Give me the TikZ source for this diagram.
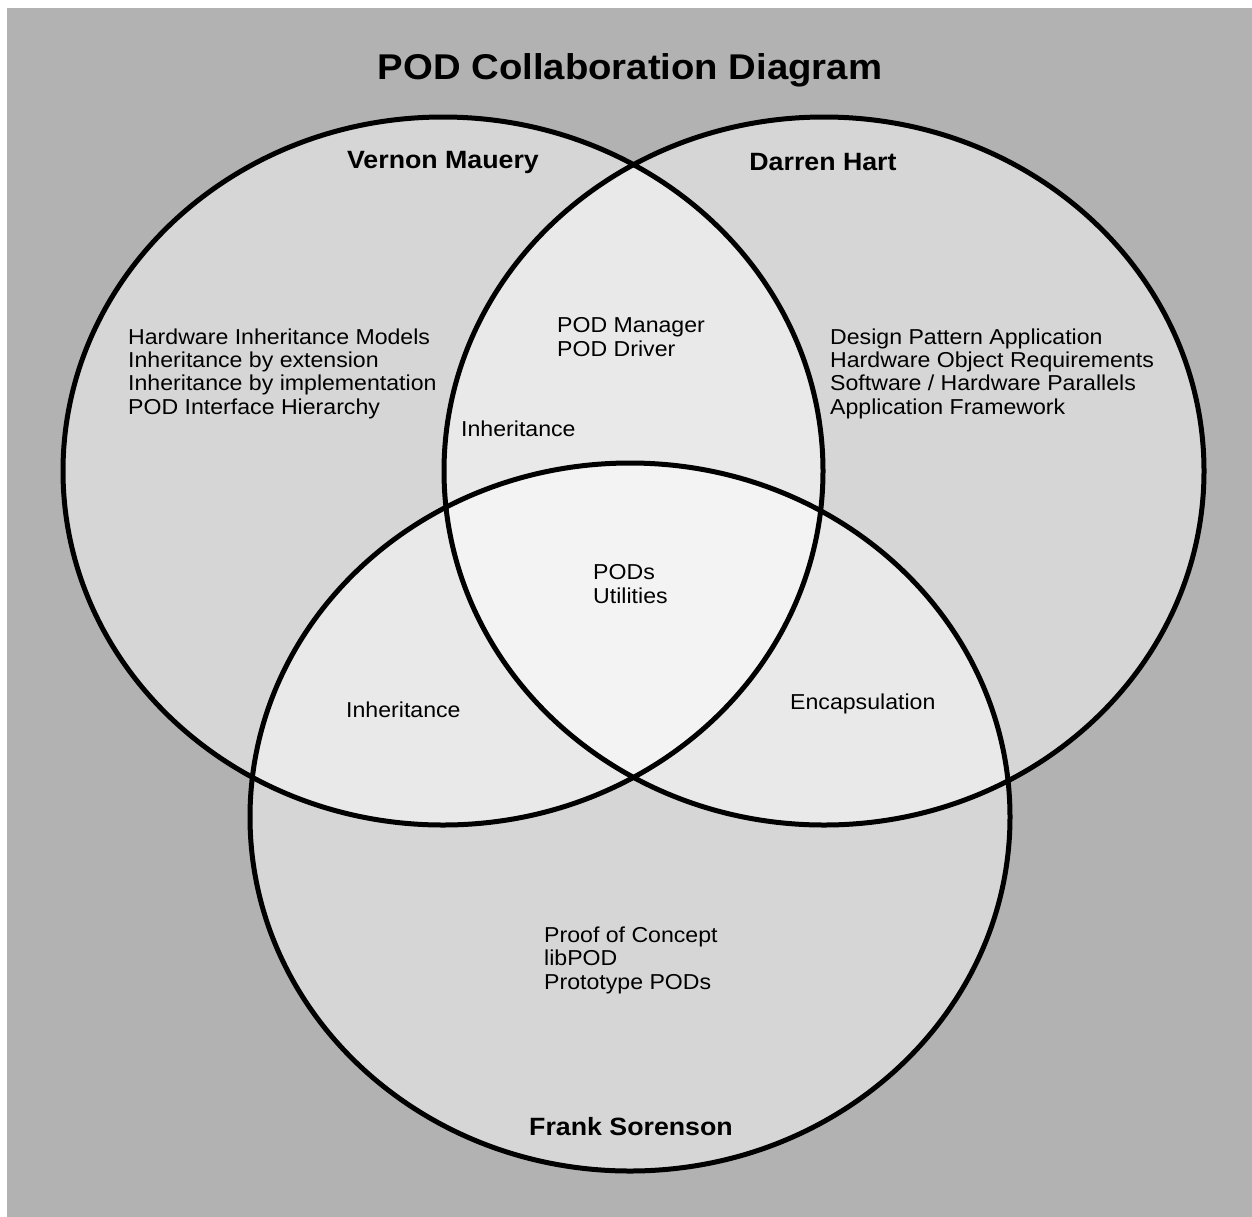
\documentclass[tikz,border=0pt]{standalone}
\usepackage{fontspec}
\setmainfont{Liberation Sans}[FakeStretch=1.07]
\begin{document}
\begin{tikzpicture}[x=1pt,y=-1pt,
  ring/.style={draw=black,line width=5pt},
  tint/.style={fill=white,fill opacity=0.47},
  body/.style={anchor=base west,inner sep=0pt,align=left,font=\fontsize{21.6}{23.3}\selectfont},
  person/.style={anchor=base,inner sep=0pt,font=\fontsize{25}{30}\selectfont\bfseries},
  heading/.style={anchor=base,inner sep=0pt,font=\fontsize{35.8}{40}\selectfont\bfseries}]
\useasboundingbox (0,0) rectangle (1252,1216);
\fill[white] (0,0) rectangle (1252,1216);
\fill[black!30] (7,8) rectangle (1253,1217);
% tinted discs
\fill[tint] (443,471) ellipse [x radius=380, y radius=354];
\fill[tint] (824,471) ellipse [x radius=380, y radius=354];
\fill[tint] (630,817) ellipse [x radius=380, y radius=354];
% outlines
\draw[ring] (443,471) ellipse [x radius=380, y radius=354];
\draw[ring] (824,471) ellipse [x radius=380, y radius=354];
\draw[ring] (630,817) ellipse [x radius=380, y radius=354];
% texts (base anchor of a multi-line node = baseline of its last line)
\node[heading] (title) at (630,79) {POD Collaboration Diagram};
\node[person] (vm) at (443,168) {Vernon Mauery};
\node[person] (dh) at (823,170) {Darren Hart};
\node[person] (fs) at (631,1135) {Frank Sorenson};
\node[body] (vmt) at (128,414) {Hardware Inheritance Models\\Inheritance by extension\\Inheritance by implementation\\POD Interface Hierarchy};
\node[body] (dht) at (830,414) {Design Pattern Application\\Hardware Object Requirements\\Software / Hardware Parallels\\Application Framework};
\node[body] (vd) at (557,356) {POD Manager\\POD Driver};
\node[body] (inh1) at (461,436) {Inheritance};
\node[body] (all) at (593,603) {PODs\\Utilities};
\node[body] (inh2) at (346,717) {Inheritance};
\node[body] (enc) at (790,709) {Encapsulation};
\node[body] (fst) at (544,989) {Proof of Concept\\libPOD\\Prototype PODs};
\end{tikzpicture}
\end{document}
